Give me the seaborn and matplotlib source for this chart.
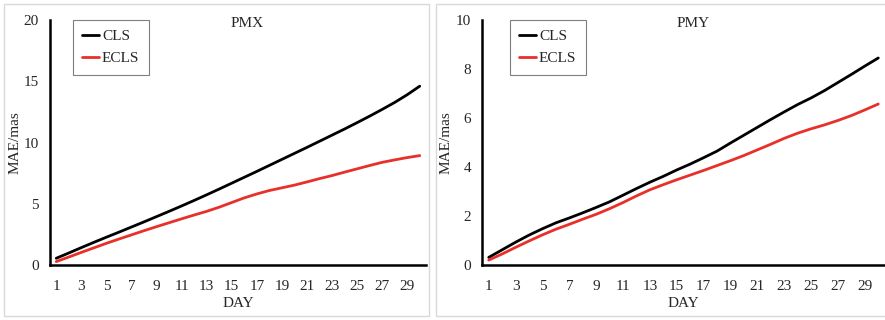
import numpy as np
import pandas as pd
import matplotlib
matplotlib.use("Agg")
import matplotlib.pyplot as plt
from matplotlib.patches import Rectangle
import seaborn as sns

# Forecast day index
days = list(range(1, 31))

# Mean absolute error (mas) of polar motion X component
pmx_cls = [0.55, 0.98, 1.42, 1.85, 2.27, 2.68, 3.10, 3.52, 3.95, 4.38,
           4.82, 5.27, 5.73, 6.20, 6.68, 7.16, 7.64, 8.13, 8.62, 9.11,
           9.60, 10.10, 10.60, 11.10, 11.62, 12.15, 12.70, 13.27, 13.90, 14.60]
pmx_ecls = [0.28, 0.65, 1.03, 1.40, 1.77, 2.12, 2.46, 2.80, 3.13, 3.45,
            3.77, 4.08, 4.38, 4.72, 5.10, 5.48, 5.80, 6.08, 6.30, 6.52,
            6.78, 7.05, 7.30, 7.58, 7.85, 8.12, 8.38, 8.58, 8.77, 8.93]

# Mean absolute error (mas) of polar motion Y component
pmy_cls = [0.31, 0.62, 0.93, 1.22, 1.48, 1.72, 1.92, 2.13, 2.35, 2.58,
           2.85, 3.12, 3.38, 3.62, 3.88, 4.12, 4.38, 4.65, 4.98, 5.30,
           5.62, 5.94, 6.25, 6.55, 6.82, 7.12, 7.45, 7.78, 8.12, 8.45]
pmy_ecls = [0.20, 0.45, 0.72, 0.98, 1.23, 1.46, 1.66, 1.87, 2.07, 2.30,
            2.55, 2.82, 3.07, 3.28, 3.48, 3.67, 3.86, 4.06, 4.26, 4.47,
            4.70, 4.93, 5.17, 5.38, 5.56, 5.72, 5.90, 6.10, 6.33, 6.57]

series_names = ["CLS", "ECLS"]
panel_titles = ["PMX", "PMY"]
y_max = [20, 10]
y_step = [5, 2]
x_tick_labels = [str(d) for d in range(1, 30, 2)]

sns.set_style("white")
plt.rcParams["font.family"] = ["Liberation Serif", "DejaVu Serif"]
FS = 11
plt.rcParams["font.size"] = FS

W, H = 885, 320
fig = plt.figure(figsize=(W / 100, H / 100), dpi=100)

# light grey chart-area frames
for x0, x1 in [(4, 429), (436, 890)]:
    fig.add_artist(Rectangle((x0 / W, 4 / H), (x1 - x0) / W, 312 / H,
                             transform=fig.transFigure, fill=False,
                             edgecolor="#d9d9d9", linewidth=1.0))

axes_px = [(50, 426), (482, 885)]
top_px, bot_px = 20, 265
colors = {"CLS": "#000000", "ECLS": "#E8302A"}

panels = [(pmx_cls, pmx_ecls), (pmy_cls, pmy_ecls)]

for k, ((x0, x1), (cls_vals, ecls_vals)) in enumerate(zip(axes_px, panels)):
    ax = fig.add_axes([x0 / W, (H - bot_px) / H, (x1 - x0) / W, (bot_px - top_px) / H])
    df = pd.DataFrame({"DAY": days * 2,
                       "MAE": cls_vals + ecls_vals,
                       "series": ["CLS"] * len(days) + ["ECLS"] * len(days)})
    for name in series_names:
        sns.lineplot(data=df[df["series"] == name], x="DAY", y="MAE", ax=ax,
                     color=colors[name], linewidth=2.0, label=name)

    ax.set_xlim(0.5, 30.5)
    ax.set_ylim(0, y_max[k])
    yt = np.arange(0, y_max[k] + 0.01, y_step[k])
    ax.set_yticks(yt)
    ax.set_yticklabels([f"{int(v)}" for v in yt])

    # tick marks between categories, labels at odd days
    ax.set_xticks(np.arange(2.5, 30.6, 2))
    ax.set_xticklabels([])
    ax.set_xticks(np.arange(1, 30, 2), minor=True)
    ax.set_xticklabels(x_tick_labels, minor=True)
    ax.tick_params(axis="x", which="major", direction="in", length=5, width=1.5)
    ax.tick_params(axis="x", which="minor", length=0, pad=11, labelsize=FS)
    ax.tick_params(axis="y", direction="in", length=5, width=1.5, pad=8, labelsize=FS)

    for side in ["top", "right"]:
        ax.spines[side].set_visible(False)
    for side in ["left", "bottom"]:
        ax.spines[side].set_linewidth(1.8)
        ax.spines[side].set_color("black")

    ax.set_xlabel("DAY", fontsize=FS)
    ax.xaxis.set_label_coords(0.5, -0.13)
    ax.set_ylabel("MAE/mas", fontsize=FS)
    ax.yaxis.set_label_coords(-0.077 if k == 0 else -0.072, 0.5)

    ax.text(0.524, 0.985, panel_titles[k], transform=ax.transAxes,
            ha="center", va="center", fontsize=FS)

    leg_left = (73 - 50) / (x1 - x0) if k == 0 else (510 - 482) / (x1 - x0)
    ax.legend(loc="upper left", bbox_to_anchor=(leg_left, 0.998),
              frameon=True, fancybox=False, edgecolor="#7f7f7f",
              framealpha=1, fontsize=FS, handlelength=1.1,
              handletextpad=0.2, labelspacing=0.55, borderpad=0.6,
              borderaxespad=0)
    ax.get_legend().get_frame().set_linewidth(0.8)
    ax.patch.set_alpha(0)

fig.savefig("out.png", dpi=100)
